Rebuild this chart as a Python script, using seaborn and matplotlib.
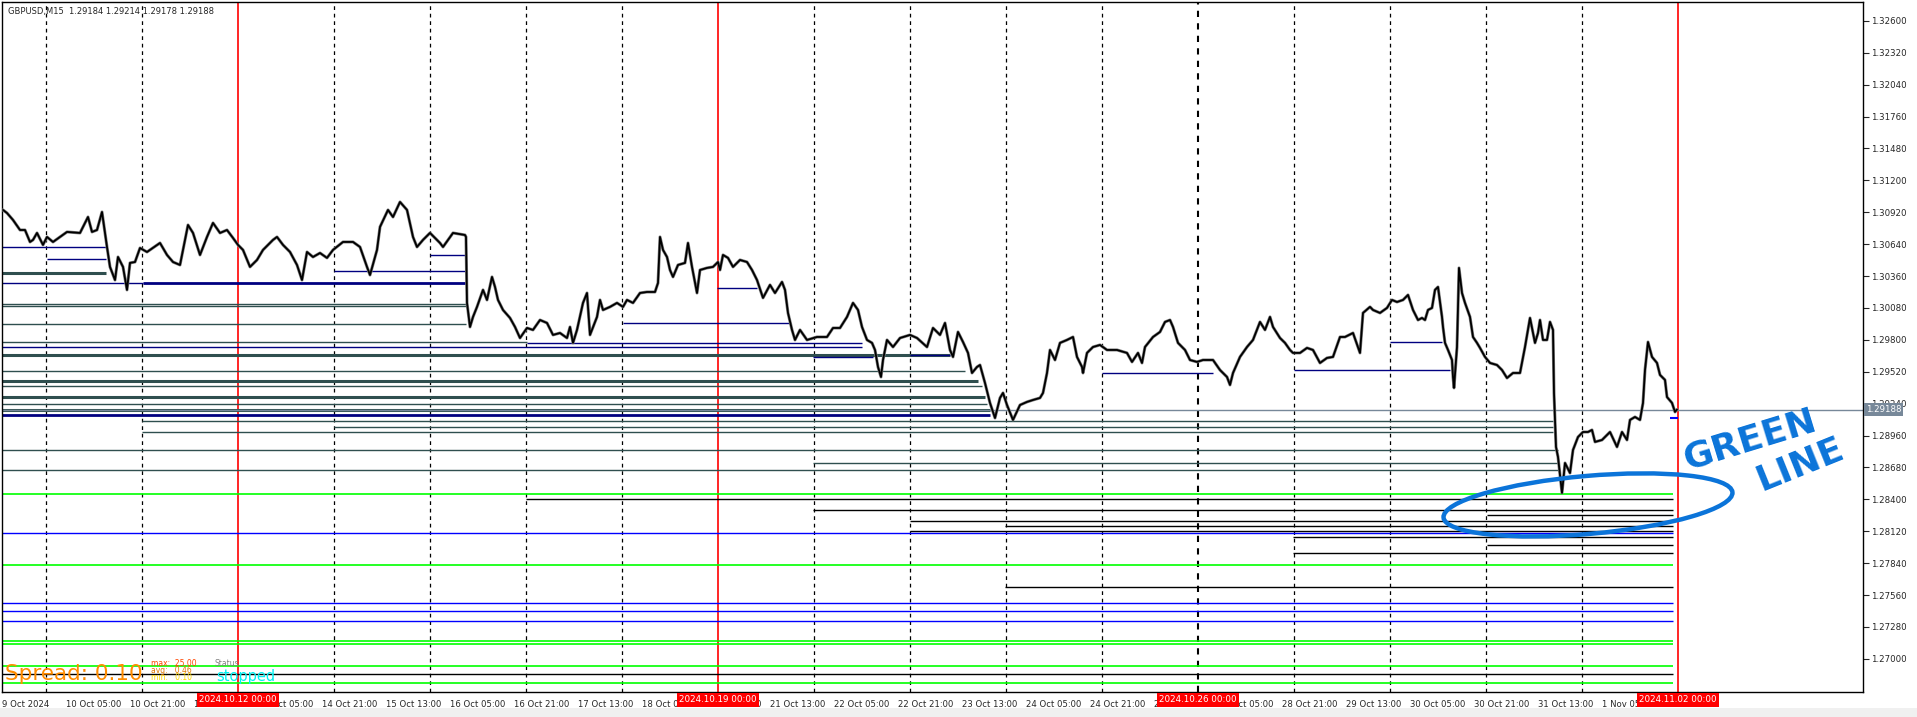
import numpy as np
import pandas as pd
import seaborn as sns
import matplotlib.pyplot as plt
import matplotlib.transforms as mtransforms
from matplotlib.patches import Ellipse, Rectangle

# GBPUSD M15, one bar per pixel column; closes
bars = [3, 7, 13, 20, 25, 30, 33, 37, 43, 47, 53, 67, 80, 88, 92, 97, 102, 105, 107, 110,
        115, 118, 123, 127, 130, 135, 140, 147, 160, 167, 173, 180, 185, 188, 193, 200, 207,
        213, 220, 227, 233, 238, 243, 250, 257, 263, 273, 277, 283, 290, 297, 302, 307, 313,
        320, 327, 333, 343, 353, 360, 367, 370, 377, 380, 388, 393, 400, 407, 413, 417, 423,
        430, 440, 443, 453, 465, 466, 467, 470,
        473, 477, 483, 487, 492, 495, 498, 503, 510, 515, 520, 527, 533, 540, 547, 553, 560,
        567, 570, 573, 577, 583, 587, 590, 597, 600, 603, 610, 617, 623, 627, 633, 640, 647,
        655, 658, 660, 663, 667, 670, 673, 678, 685, 688, 692, 697, 700, 707, 713, 718, 720,
        723, 728, 733, 740, 747, 752, 757, 763, 770, 775, 782, 785, 788, 792, 795, 800, 807,
        817, 827, 833, 840, 847, 853, 858, 862, 867, 872, 875, 878, 881, 883, 887, 893, 900,
        910, 917, 927, 933, 940,
        945, 950, 953, 958, 963, 968, 972, 977, 980, 985, 990, 995, 1000, 1003, 1007, 1013,
        1020, 1027, 1033, 1040, 1043, 1047, 1050, 1055, 1060, 1067, 1073, 1077, 1082, 1083,
        1087, 1093, 1100, 1107, 1117, 1127, 1132, 1138, 1142, 1145, 1153, 1160, 1165, 1170,
        1173, 1178, 1185, 1190, 1197, 1203, 1213, 1220, 1227, 1230, 1233, 1240, 1247, 1253,
        1260, 1265, 1270, 1273, 1280, 1285, 1290, 1293, 1300, 1307, 1313, 1320, 1327, 1333,
        1340, 1345, 1353, 1360, 1363, 1370, 1373, 1380, 1387, 1392, 1397, 1403, 1408, 1413,
        1418,
        1422, 1425, 1428, 1432, 1435, 1438, 1442, 1443, 1445, 1448, 1452, 1453, 1454, 1457,
        1459, 1462, 1465, 1470, 1473, 1477, 1480, 1485, 1490, 1497, 1502, 1507, 1513, 1520,
        1525, 1530, 1535, 1538, 1540, 1543, 1547, 1550, 1553, 1554, 1556, 1558, 1562, 1565,
        1570, 1573, 1578, 1583, 1588, 1592, 1595, 1602, 1610, 1617, 1622, 1627, 1630, 1635,
        1640, 1643, 1645, 1648, 1652, 1657, 1660, 1665, 1667, 1672, 1675, 1677]

prices = [1.30940, 1.30913, 1.30852, 1.30764, 1.30764, 1.30659, 1.30677, 1.30738, 1.30633,
          1.30703, 1.30659, 1.30747, 1.30738, 1.30878, 1.30747, 1.30764, 1.30922, 1.30738,
          1.30615, 1.30440, 1.30325, 1.30527, 1.30440, 1.30238, 1.30475, 1.30483, 1.30606,
          1.30571, 1.30650, 1.30545, 1.30483, 1.30457, 1.30677, 1.30808, 1.30738, 1.30545,
          1.30703, 1.30826, 1.30738, 1.30764, 1.30694, 1.30633, 1.30589, 1.30440, 1.30501,
          1.30589, 1.30677, 1.30703, 1.30633, 1.30571, 1.30457, 1.30325, 1.30571, 1.30527,
          1.30562, 1.30519, 1.30589, 1.30659, 1.30659, 1.30615, 1.30440, 1.30369, 1.30589,
          1.30791, 1.30940, 1.30878, 1.31010, 1.30940, 1.30703, 1.30615, 1.30677, 1.30738,
          1.30650, 1.30615, 1.30738, 1.30720, 1.30703, 1.30124, 1.29913,
          1.30001, 1.30089, 1.30238, 1.30150, 1.30352, 1.30264, 1.30150, 1.30062, 1.29992,
          1.29913, 1.29816, 1.29904, 1.29887, 1.29974, 1.29948, 1.29843, 1.29860, 1.29816,
          1.29913, 1.29773, 1.29887, 1.30124, 1.30211, 1.29843, 1.30001, 1.30150, 1.30062,
          1.30089, 1.30124, 1.30089, 1.30150, 1.30124, 1.30211, 1.30220, 1.30220, 1.30299,
          1.30703, 1.30589, 1.30527, 1.30413, 1.30352, 1.30457, 1.30475, 1.30650, 1.30440,
          1.30211, 1.30413, 1.30431, 1.30440, 1.30483, 1.30413, 1.30545, 1.30519, 1.30440,
          1.30501, 1.30483, 1.30413, 1.30325, 1.30168, 1.30282, 1.30211, 1.30308, 1.30238,
          1.30036, 1.29887, 1.29799, 1.29887, 1.29799, 1.29825, 1.29825, 1.29904, 1.29904,
          1.30001, 1.30124, 1.30062, 1.29913, 1.29799, 1.29773, 1.29711, 1.29562, 1.29474,
          1.29623, 1.29799, 1.29737, 1.29816, 1.29843, 1.29816, 1.29737, 1.29904, 1.29843,
          1.29948, 1.29711, 1.29650, 1.29869, 1.29781, 1.29685, 1.29509, 1.29562, 1.29579,
          1.29421, 1.29246, 1.29114, 1.29290, 1.29334, 1.29228, 1.29097, 1.29228, 1.29255,
          1.29272, 1.29290, 1.29334, 1.29509, 1.29711, 1.29623, 1.29773, 1.29799, 1.29825,
          1.29650, 1.29562, 1.29509, 1.29685, 1.29737, 1.29755, 1.29711, 1.29711, 1.29685,
          1.29606, 1.29685, 1.29597, 1.29737, 1.29825, 1.29869, 1.29957, 1.29974, 1.29913,
          1.29773, 1.29711, 1.29623, 1.29606, 1.29623, 1.29623, 1.29535, 1.29474, 1.29404,
          1.29509, 1.29650, 1.29737, 1.29799, 1.29957, 1.29887, 1.30001, 1.29913, 1.29816,
          1.29773, 1.29711, 1.29685, 1.29685, 1.29729, 1.29711, 1.29597, 1.29641, 1.29650,
          1.29825, 1.29825, 1.29860, 1.29685, 1.30036, 1.30089, 1.30062, 1.30036, 1.30080,
          1.30150, 1.30132, 1.30150, 1.30194, 1.30062, 1.29974,
          1.29992, 1.29974, 1.30062, 1.30080, 1.30238, 1.30264, 1.30001, 1.29913, 1.29773,
          1.29711, 1.29623, 1.29474, 1.29378, 1.29737, 1.30431, 1.30211, 1.30124, 1.30001,
          1.29825, 1.29773, 1.29729, 1.29650, 1.29597, 1.29579, 1.29535, 1.29465, 1.29509,
          1.29509, 1.29737, 1.29992, 1.29773, 1.29860, 1.29974, 1.29799, 1.29799, 1.29957,
          1.29887, 1.29334, 1.28860, 1.28772, 1.28456, 1.28719, 1.28631, 1.28833, 1.28947,
          1.28991, 1.28991, 1.29009, 1.28904, 1.28921, 1.28991, 1.28860, 1.28991, 1.28921,
          1.29097, 1.29123, 1.29097, 1.29246, 1.29535, 1.29781, 1.29650, 1.29597, 1.29492,
          1.29448, 1.29298, 1.29246, 1.29167, 1.29188]

# horizontal levels: price, first bar, last bar, kind
level_price = [1.30615, 1.30510, 1.30387, 1.30299, 1.30299, 1.30115, 1.30097, 1.29939,
               1.30545, 1.30404, 1.30255, 1.29948, 1.29781, 1.29772, 1.29737, 1.29667,
               1.29667, 1.29650, 1.29527, 1.29509, 1.29535, 1.29781, 1.29439, 1.29395,
               1.29298, 1.29237, 1.29184, 1.29140, 1.29114, 1.29088, 1.29035, 1.28991,
               1.28833, 1.28719, 1.28658,
               1.28447, 1.28403, 1.28307, 1.28263, 1.28210, 1.28166, 1.28122, 1.28105,
               1.28070, 1.28000, 1.27929, 1.27824, 1.27631, 1.27490, 1.27420, 1.27333,
               1.27157, 1.27131, 1.26937, 1.26867, 1.26788]
level_from = [2, 47, 2, 2, 143, 2, 2, 2,
              430, 334, 717, 623, 2, 527, 2, 2,
              910, 813, 2, 1102, 1294, 1390, 2, 2,
              2, 2, 2, 2, 1670, 142, 334, 142,
              2, 813, 2,
              2, 526, 813, 1487, 910, 1005, 910, 2,
              1293, 1487, 1293, 2, 1005, 2, 2, 2,
              2, 2, 2, 2, 2]
level_to = [107, 106, 106, 143, 466, 466, 466, 466,
            466, 466, 757, 790, 527, 862, 862, 950,
            950, 873, 965, 1213, 1450, 1442, 978, 982,
            985, 987, 990, 990, 1678, 1553, 1553, 1553,
            1558, 1558, 1558,
            1673, 1673, 1673, 1673, 1673, 1673, 1673, 1673,
            1673, 1673, 1673, 1673, 1673, 1673, 1673, 1673,
            1673, 1673, 1673, 1673, 1673]
level_kind = ["navy", "navy", "slate2", "navy", "navy2", "slate", "slate", "slate",
              "navy", "navy", "navy", "navy", "slate", "navy", "navy", "slate2",
              "navy", "navy", "slate", "navy", "navy", "navy", "slate2", "slate",
              "slate2", "slate", "slate2", "navy2", "blue2", "slate", "slate", "slate",
              "slate", "slate", "slate",
              "green", "black", "black", "black", "black", "black", "black", "blue",
              "black", "black", "black", "green", "black", "blue", "blue", "blue",
              "green", "green", "green", "black", "green"]

kind_style = {
    "navy": ("#000080", 1.0), "navy2": ("#000080", 2.0),
    "slate": ("#2F4F4F", 1.0), "slate2": ("#2F4F4F", 2.2),
    "blue": ("#0000FF", 1.0), "blue2": ("#0000FF", 1.5),
    "green": ("#00FF00", 1.2), "black": ("#000000", 1.0),
}

# daily separators and week markers
day_bars = [46, 142, 238, 334, 430, 526, 622, 718, 814, 910, 1006, 1102, 1198, 1294,
            1390, 1486, 1582, 1678]
week_bars = [238, 718, 1198, 1678]
week_labels = ["2024.10.12 00:00", "2024.10.19 00:00", "2024.10.26 00:00", "2024.11.02 00:00"]

tick_bars = [2, 66, 130, 194, 258, 322, 386, 450, 514, 578, 642, 706, 770, 834, 898, 962,
             1026, 1090, 1154, 1218, 1282, 1346, 1410, 1474, 1538, 1602, 1666]
tick_labels = ["9 Oct 2024", "10 Oct 05:00", "10 Oct 21:00", "11 Oct 13:00", "14 Oct 05:00",
               "14 Oct 21:00", "15 Oct 13:00", "16 Oct 05:00", "16 Oct 21:00", "17 Oct 13:00",
               "18 Oct 05:00", "18 Oct 21:00", "21 Oct 13:00", "22 Oct 05:00", "22 Oct 21:00",
               "23 Oct 13:00", "24 Oct 05:00", "24 Oct 21:00", "25 Oct 13:00", "28 Oct 05:00",
               "28 Oct 21:00", "29 Oct 13:00", "30 Oct 05:00", "30 Oct 21:00", "31 Oct 13:00",
               "1 Nov 05:00", "1 Nov 21:00"]

price_ticks = [1.27000, 1.27280, 1.27560, 1.27840, 1.28120, 1.28400, 1.28680, 1.28960,
               1.29240, 1.29520, 1.29800, 1.30080, 1.30360, 1.30640, 1.30920, 1.31200,
               1.31480, 1.31760, 1.32040, 1.32320, 1.32600]
bid = 1.29188

sns.set_style("white")
plt.rcParams["font.family"] = ["DejaVu Sans"]

fig = plt.figure(figsize=(19.17, 7.17), dpi=100)
ax = fig.add_axes([2 / 1917, 25 / 717, 1861 / 1917, 690 / 717])
ax.set_xlim(2, 1863)
ax.set_ylim(1.26709, 1.32765)

for b in day_bars:
    if b in (238, 718, 1678):
        ax.axvline(b, color="red", lw=1.2, zorder=1)
    elif b == 1198:
        ax.axvline(b, color="black", lw=1.5, ls=(0, (3, 3)), zorder=1)
    else:
        ax.axvline(b, color="black", lw=0.9, ls=(0, (3, 3)), zorder=1)

lv = pd.DataFrame({"price": level_price, "x0": level_from, "x1": level_to, "kind": level_kind})
for _, r in lv.iterrows():
    c, w = kind_style[r["kind"]]
    ax.hlines(r["price"], r["x0"], r["x1"], colors=c, linewidths=w, zorder=2)

ax.axhline(bid, color="#778899", lw=1.0, zorder=2)

df = pd.DataFrame({"bar": bars, "price": prices})
sns.lineplot(data=df, x="bar", y="price", ax=ax, color="#808080", lw=2.2,
             sort=False, estimator=None, zorder=3)
sns.lineplot(data=df, x="bar", y="price", ax=ax, color="black", lw=1.3,
             sort=False, estimator=None, zorder=3)
ax.set_xlabel("")
ax.set_ylabel("")

for s in ax.spines.values():
    s.set_color("black")
    s.set_linewidth(1.0)

ax.yaxis.tick_right()
ax.set_yticks(price_ticks)
ax.set_yticklabels([f"{p:.5f}" for p in price_ticks])
ax.tick_params(axis="y", length=4, width=0.8, labelsize=6.2, pad=2, direction="out")

ax.set_xticks(tick_bars)
ax.set_xticklabels(tick_labels)
ax.tick_params(axis="x", length=4, width=0.8, labelsize=6.1, pad=1.5, direction="out")
for lab in ax.get_xticklabels():
    lab.set_ha("left")

bx = mtransforms.blended_transform_factory(ax.transData, ax.transAxes)
for b, t in zip(week_bars, week_labels):
    ax.text(b, -0.005, t, transform=bx, ha="center", va="top", fontsize=6.3, color="white",
            clip_on=False, zorder=10,
            bbox=dict(boxstyle="square,pad=0.25", fc="red", ec="none"))

by = mtransforms.blended_transform_factory(ax.transAxes, ax.transData)
ax.text(1.0015, bid, f"{bid:.5f}", transform=by, ha="left", va="center", fontsize=6.2,
        color="white", clip_on=False, zorder=10,
        bbox=dict(boxstyle="square,pad=0.2", fc="#778899", ec="none"))

ax.text(0.003, 0.993, "GBPUSD,M15  1.29184 1.29214 1.29178 1.29188", transform=ax.transAxes,
        ha="left", va="top", fontsize=6)

# spread indicator
ax.text(0.0015, 0.026, "Spread: 0.10", transform=ax.transAxes, ha="left", va="center",
        fontsize=15.5, color="#FF8C00")
ax.text(0.080, 0.041, "max:  25.00", transform=ax.transAxes, ha="left", va="center",
        fontsize=5.5, color="#FF4500")
ax.text(0.080, 0.031, "avg:   0.46", transform=ax.transAxes, ha="left", va="center",
        fontsize=5.5, color="#E07800")
ax.text(0.080, 0.021, "min:   0.10", transform=ax.transAxes, ha="left", va="center",
        fontsize=5.5, color="#FFD700")
ax.text(0.114, 0.041, "Status", transform=ax.transAxes, ha="left", va="center",
        fontsize=5.5, color="#808080")
ax.text(0.115, 0.022, "stopped", transform=ax.transAxes, ha="left", va="center",
        fontsize=10.5, color="#00F0F0")

# hand drawn note
note = "#0B74D9"
ax.add_patch(Ellipse((0, 0), 290, 58, angle=5, fill=False, ec=note, lw=3.2, zorder=11,
                     transform=mtransforms.ScaledTranslation(1588, 1.28351, ax.transData)))
ax.text(1750, 1.28921, "GREEN", color=note, fontsize=26, fontweight="bold", rotation=17,
        ha="center", va="center", zorder=11)
ax.text(1800, 1.28702, "LINE", color=note, fontsize=26, fontweight="bold", rotation=22,
        ha="center", va="center", zorder=11)

fig.patches.append(Rectangle((0, 0), 1, 9 / 717, transform=fig.transFigure,
                             fc="#F0F0F0", ec="none"))

fig.savefig("out.png", dpi=100)
